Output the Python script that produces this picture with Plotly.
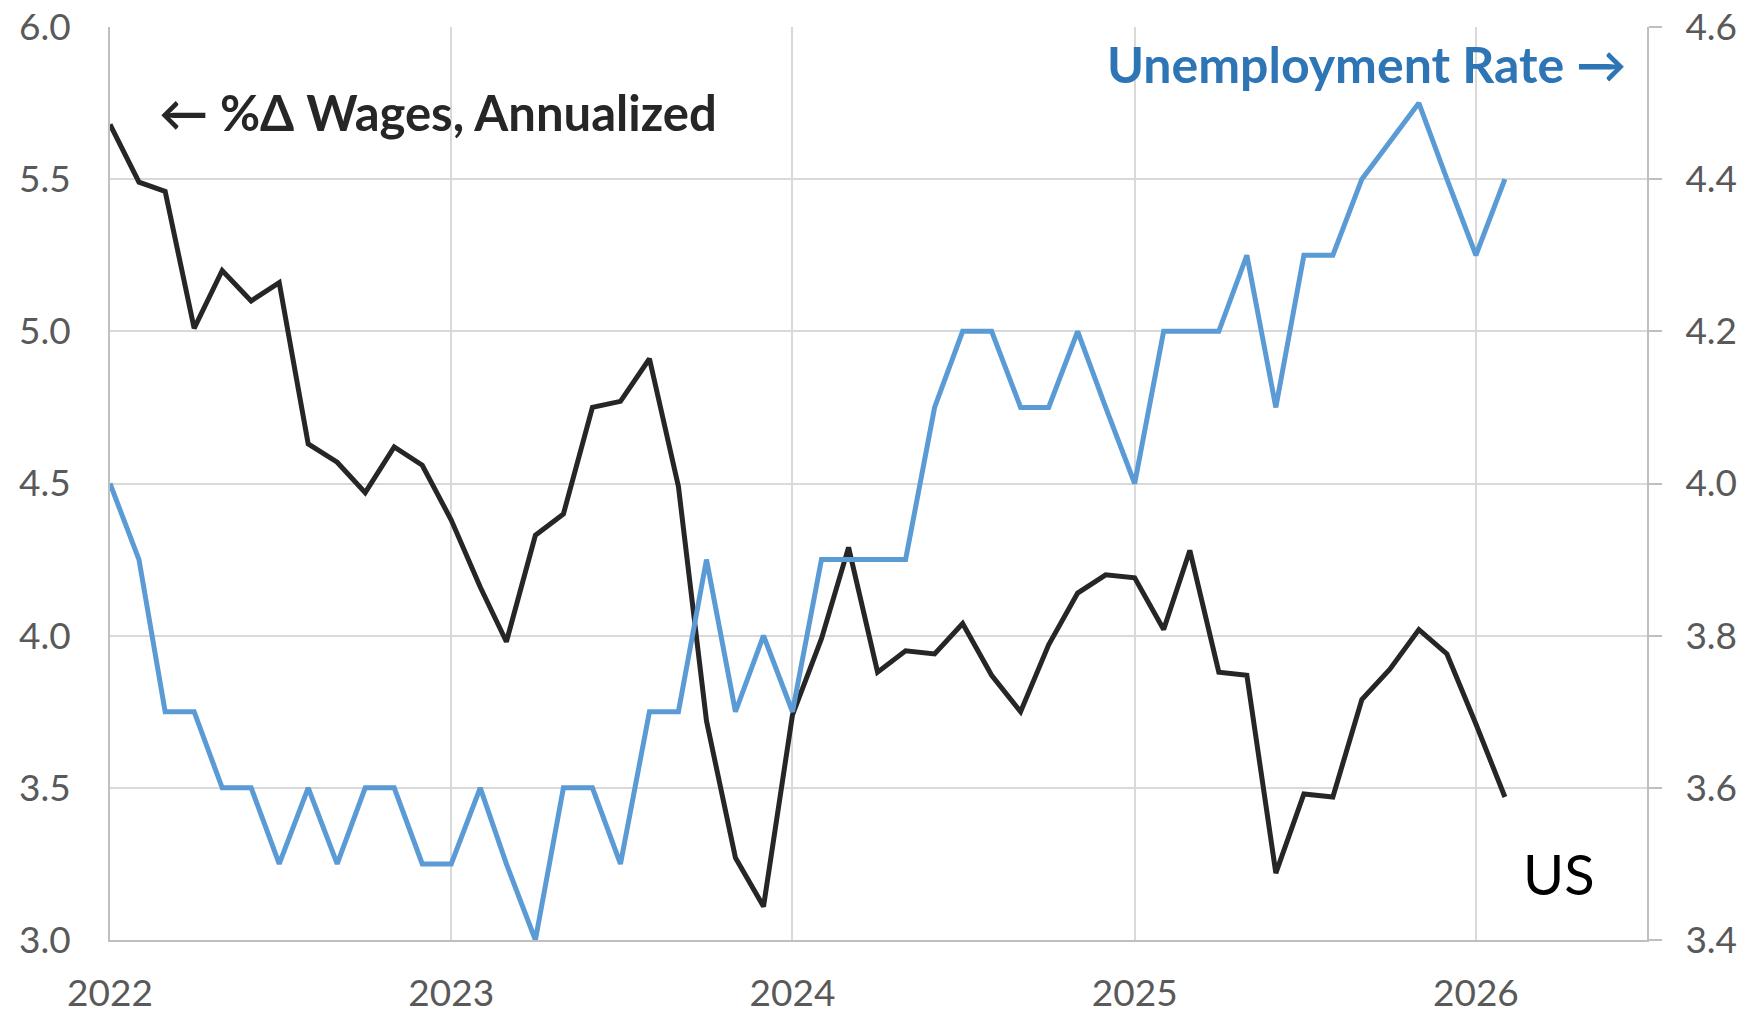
import pandas as pd
import plotly.graph_objects as go

# Monthly observations, Jan 2022 .. Feb 2026
months = pd.date_range("2022-01-01", periods=50, freq="MS")

wages_growth = [
    5.68, 5.49, 5.46, 5.01, 5.20, 5.10, 5.16, 4.63, 4.57, 4.47, 4.62, 4.56,
    4.38, 4.16, 3.98, 4.33, 4.40, 4.75, 4.77, 4.91, 4.49, 3.72, 3.27, 3.11,
    3.74, 3.99, 4.29, 3.88, 3.95, 3.94, 4.04, 3.87, 3.75, 3.97, 4.14, 4.20,
    4.19, 4.02, 4.28, 3.88, 3.87, 3.22, 3.48, 3.47, 3.79, 3.89, 4.02, 3.94,
    3.71, 3.47,
]

unemployment_rate = [
    4.0, 3.9, 3.7, 3.7, 3.6, 3.6, 3.5, 3.6, 3.5, 3.6, 3.6, 3.5,
    3.5, 3.6, 3.5, 3.4, 3.6, 3.6, 3.5, 3.7, 3.7, 3.9, 3.7, 3.8,
    3.7, 3.9, 3.9, 3.9, 3.9, 4.1, 4.2, 4.2, 4.1, 4.1, 4.2, 4.1,
    4.0, 4.2, 4.2, 4.2, 4.3, 4.1, 4.3, 4.3, 4.4, None, 4.5, 4.4,
    4.3, 4.4,
]

left_ticks = [3.0, 3.5, 4.0, 4.5, 5.0, 5.5, 6.0]
right_ticks = [3.4, 3.6, 3.8, 4.0, 4.2, 4.4, 4.6]

wages_label = "← %Δ Wages, Annualized"
unemp_label = "Unemployment Rate →"
region_label = "US"

FONT = "Lato, 'Open Sans', sans-serif"
TICK_COLOR = "#595959"
GRID = "#d9d9d9"
AXIS = "#bfbfbf"
TICK_SIZE = 37

fig = go.Figure()

fig.add_trace(go.Scatter(
    x=months, y=wages_growth, mode="lines", name="Wages",
    line=dict(color="#262626", width=5), yaxis="y",
))
fig.add_trace(go.Scatter(
    x=months, y=unemployment_rate, mode="lines", name="Unemployment",
    line=dict(color="#5b9bd5", width=5), yaxis="y2", connectgaps=True,
))

fig.update_layout(
    width=1749, height=1014,
    margin=dict(l=110, r=102, t=27, b=74, autoexpand=False),
    paper_bgcolor="white", plot_bgcolor="white",
    showlegend=False,
    font=dict(family=FONT, size=TICK_SIZE, color=TICK_COLOR),
    xaxis=dict(
        type="date",
        range=["2022-01-01", "2026-07-03"],
        tick0="2022-01-01", dtick="M12", tickformat="%Y",
        showgrid=True, gridcolor=GRID, gridwidth=2,
        showline=True, linecolor=AXIS, linewidth=2,
        ticks="", ticklabelstandoff=20, automargin=False,
        tickfont=dict(family=FONT, size=TICK_SIZE, color=TICK_COLOR),
        zeroline=False,
    ),
    yaxis=dict(
        range=[3.0, 6.0], tickvals=left_ticks, tickformat=".1f",
        showgrid=True, gridcolor=GRID, gridwidth=2,
        showline=True, linecolor=AXIS, linewidth=2,
        ticks="", ticklabelstandoff=30, automargin=False,
        tickfont=dict(family=FONT, size=TICK_SIZE, color=TICK_COLOR),
        zeroline=False,
    ),
    yaxis2=dict(
        range=[3.4, 4.6], tickvals=right_ticks, tickformat=".1f",
        overlaying="y", side="right",
        showgrid=False,
        showline=True, linecolor=AXIS, linewidth=2,
        ticks="outside", ticklen=13, tickwidth=2, tickcolor=AXIS,
        ticklabelstandoff=16, automargin=False,
        tickfont=dict(family=FONT, size=TICK_SIZE, color=TICK_COLOR),
        zeroline=False,
    ),
    annotations=[
        dict(text=wages_label, xref="paper", yref="paper",
             x=0.0306, y=0.9065, xanchor="left", yanchor="middle",
             showarrow=False,
             font=dict(family=FONT, size=49, color="#262626", weight="bold")),
        dict(text=unemp_label, xref="paper", yref="paper",
             x=0.9876, y=0.959, xanchor="right", yanchor="middle",
             showarrow=False,
             font=dict(family=FONT, size=50, color="#2e75b6", weight="bold")),
        dict(text=region_label, xref="paper", yref="paper",
             x=0.918, y=0.0728, xanchor="left", yanchor="middle",
             showarrow=False,
             font=dict(family=FONT, size=56, color="#000000")),
    ],
)

fig.write_html(
    "out.html",
    config={"displayModeBar": False},
    post_script="document.body.style.margin='0';document.body.style.overflow='hidden';",
)
